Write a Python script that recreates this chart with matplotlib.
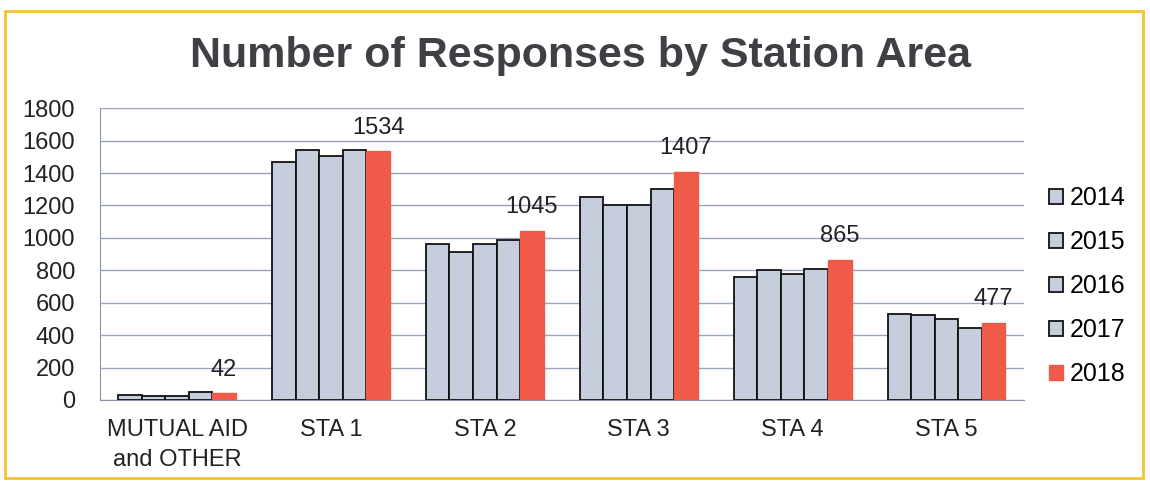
import matplotlib.pyplot as plt
from matplotlib.patches import Rectangle
import numpy as np

plt.rcParams['font.family'] = ['Liberation Sans', 'DejaVu Sans']

# Data
stations = ['MUTUAL AID\nand OTHER', 'STA 1', 'STA 2', 'STA 3', 'STA 4', 'STA 5']
years = ['2014', '2015', '2016', '2017', '2018']
y2014 = [31, 1469, 961, 1252, 760, 533]
y2015 = [25, 1539, 911, 1200, 804, 523]
y2016 = [25, 1504, 961, 1204, 775, 502]
y2017 = [48, 1543, 988, 1304, 808, 444]
y2018 = [42, 1534, 1045, 1407, 865, 477]

series = [y2014, y2015, y2016, y2017, y2018]
grey = '#c6cede'
red = '#f05a48'

fig = plt.figure(figsize=(11.5, 4.83), dpi=100)
ax = fig.add_axes([0.087, 0.172, 0.803, 0.604])

x = np.arange(len(stations))
width = 0.153
for i, (yr, vals) in enumerate(zip(years, series)):
    offs = (i - 2) * width
    if yr == '2018':
        bars = ax.bar(x + offs, vals, width, color=red, edgecolor=red, linewidth=1, label=yr, zorder=3)
        for b, v in zip(bars, vals):
            ax.annotate(str(v), (b.get_x() + b.get_width() / 2, v), xytext=(0, 9),
                        textcoords='offset points', ha='center', va='bottom',
                        fontsize=17, color='#222222', zorder=4)
    else:
        ax.bar(x + offs, vals, width, color=grey, edgecolor='#111111', linewidth=1.3, label=yr, zorder=3)

ax.set_xlim(-0.5, len(stations) - 0.5)
ax.set_ylim(0, 1800)
ax.set_yticks(range(0, 1801, 200))
ax.yaxis.grid(True, color='#9aa6b8', linewidth=1)
ax.set_axisbelow(True)
ax.set_xticks(x)
ax.set_xticklabels(stations, linespacing=1.45)
ax.tick_params(axis='both', length=0, labelsize=17, colors='#222222')
ax.tick_params(axis='y', pad=18)
ax.tick_params(axis='x', pad=14)
for s in ['top', 'right']:
    ax.spines[s].set_visible(False)
ax.spines['left'].set_color('#8a94a4')
ax.spines['bottom'].set_color('#8a94a4')

ax.legend(loc='center left', bbox_to_anchor=(1.028, 0.39), frameon=False, fontsize=18,
          handlelength=0.55, handleheight=0.55, handletextpad=0.25, labelspacing=0.8,
          borderpad=0, borderaxespad=0)

fig.text(0.505, 0.885, 'Number of Responses by Station Area', ha='center', va='center',
         fontsize=31, fontweight='bold', color='#3f3f46')

# yellow frame around the chart
fig.patches.append(Rectangle((0.004, 0.01), 0.99, 0.968, transform=fig.transFigure,
                             fill=False, edgecolor='#f4c430', linewidth=2))

fig.savefig('out.png', dpi=100)
